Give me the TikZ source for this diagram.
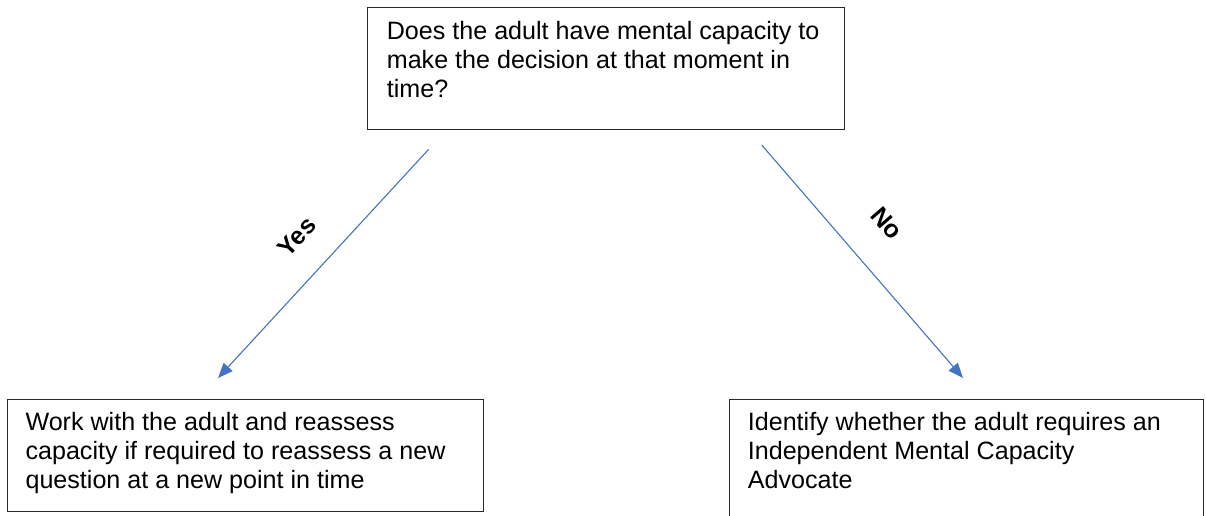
\documentclass[tikz,border=0pt]{standalone}
\usepackage{fontspec}
\setmainfont{Liberation Sans}
\usetikzlibrary{arrows.meta}
\definecolor{arrowblue}{RGB}{68,114,196}
\definecolor{boxline}{RGB}{40,40,40}
\begin{document}
\begin{tikzpicture}[x=1pt,y=-1pt,
  box/.style={draw=boxline, line width=1.1pt, anchor=north west, inner ysep=0pt,
    font=\fontsize{25.1}{29}\selectfont},
  arr/.style={draw=arrowblue, line width=1.1pt, -{Triangle[length=15pt,width=12pt]}},
  lbl/.style={font=\bfseries\fontsize{25}{29}\selectfont, inner sep=0pt}]
\useasboundingbox (0,0) rectangle (1206,516);
\node[box, inner xsep=19pt] (q) at (367.3,7.3)
  {\parbox[c][122pt][t]{438.7pt}{\rule{0pt}{32pt}Does the adult have mental capacity to\\make the decision at that moment in\\time?}};
\node[box, inner xsep=17.7pt] (yesbox) at (7.3,399)
  {\parbox[c][111.7pt][t]{440.6pt}{\rule{0pt}{31pt}Work with the adult and reassess\\capacity if required to reassess a new\\question at a new point in time}};
\node[box, inner xsep=18.3pt] (nobox) at (729,399)
  {\parbox[c][135pt][t]{437.7pt}{\rule{0pt}{31pt}Identify whether the adult requires an\\Independent Mental Capacity\\Advocate}};
\coordinate (ys) at (428.7,149.3);
\coordinate (ye) at (218,378);
\coordinate (ns) at (761.7,145);
\coordinate (ne) at (963,378);
\draw[arr] (ys) -- (ye);
\draw[arr] (ns) -- (ne);
\node[lbl, rotate=47.3] (yes) at (296.7,236.7) {Yes};
\node[lbl, rotate=-49.2] (no) at (886.7,223.3) {No};
\end{tikzpicture}
\end{document}
